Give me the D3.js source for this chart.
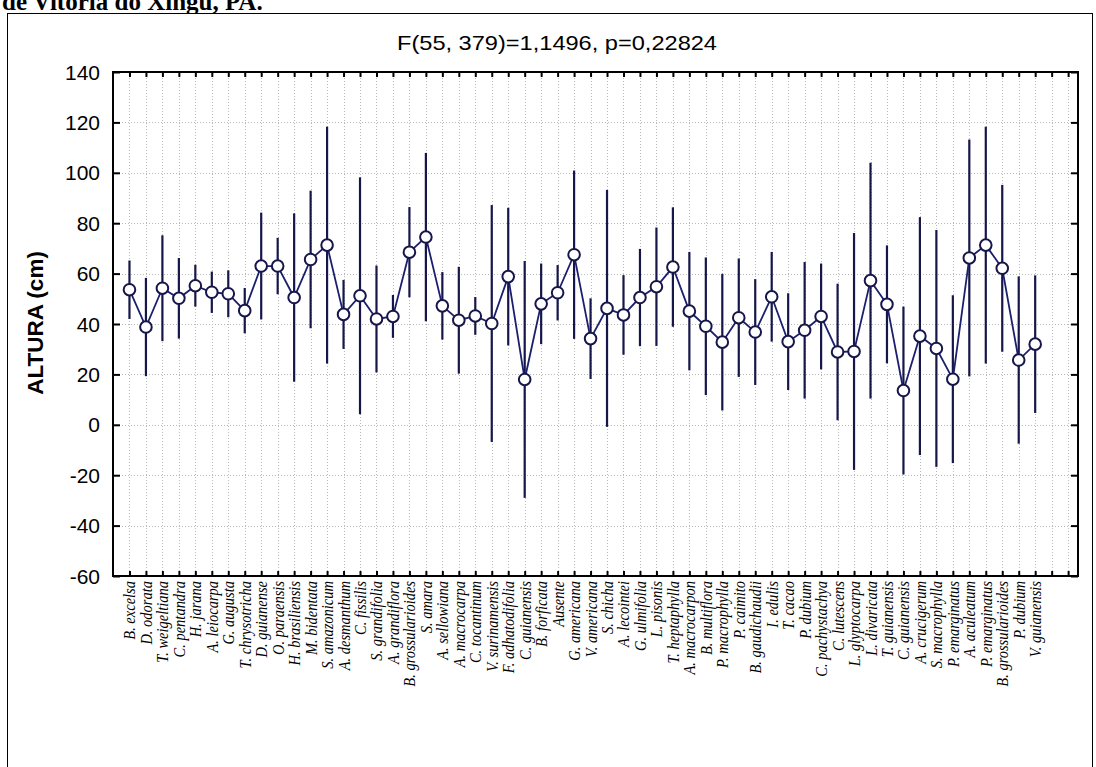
<!DOCTYPE html>
<html>
<head>
<meta charset="utf-8">
<script src="https://cdn.jsdelivr.net/npm/d3@7/dist/d3.min.js"></script>
<style>
  html, body { margin: 0; padding: 0; background: #fff; }
  svg { display: block; }
</style>
</head>
<body>
<svg id="chart" width="1096" height="767"></svg>
<script>
// Species (categories along the x axis)
const species = [
  "B. excelsa", "D. odorata", "T. weigeltiana", "C. pentandra", "H. jarana",
  "A. leiocarpa", "G. augusta", "T. chrysotricha", "D. guianense", "O. paraensis",
  "H. brasiliensis", "M. bidentata", "S. amazonicum", "A. desmanthum", "C. fissilis",
  "S. grandifolia", "A. grandiflora", "B. grossularioides", "S. amara", "A. sellowiana",
  "A. macrocarpa", "C. tocantinum", "V. surinamensis", "F. adhatodifolia", "C. guianensis",
  "B. forficata", "Ausente", "G. americana", "V. americana", "S. chicha",
  "A. lecointei", "G. ulmifolia", "L. pisonis", "T. heptaphylla", "A. macrocarpon",
  "B. multiflora", "P. macrophylla", "P. caimito", "B. gaudichaudii", "I. edulis",
  "T. cacao", "P. dubium", "C. pachystachya", "C. lutescens", "L. glyptocarpa",
  "L. divaricata", "T. guianensis", "C. guianensis", "A. crucigerum", "S. macrophylla",
  "P. emarginatus", "A. aculeatum", "P. emarginatus", "B. grossularioides", "P. dubium",
  "V. guianensis"
];

// Mean height (cm) per species
const meanHeight = [
  53.6, 38.8, 54.2, 50.2, 55.2, 52.6, 52.0, 45.3, 63.0, 63.0,
  50.5, 65.6, 71.3, 43.8, 51.2, 42.0, 43.0, 68.5, 74.5, 47.2,
  41.5, 43.2, 40.2, 58.8, 18.0, 48.0, 52.4, 67.5, 34.2, 46.2,
  43.6, 50.5, 54.8, 62.6, 45.1, 39.1, 32.8, 42.5, 36.8, 50.8,
  33.0, 37.5, 43.0, 28.9, 29.1, 57.2, 47.8, 13.6, 35.2, 30.3,
  18.1, 66.2, 71.3, 62.1, 25.7, 32.0
];

// Half-width of the 95% confidence interval (cm)
const ci95 = [
  11.6, 19.5, 21.0, 16.0, 8.3, 8.2, 9.3, 9.0, 21.2, 11.2,
  33.4, 27.3, 47.0, 13.7, 47.0, 21.2, 8.5, 17.9, 33.4, 13.4,
  21.2, 7.5, 47.0, 27.3, 47.0, 16.0, 11.0, 33.4, 16.0, 47.0,
  15.8, 19.3, 23.5, 23.7, 23.5, 27.3, 27.1, 23.5, 21.0, 17.8,
  19.2, 27.1, 21.0, 27.1, 47.0, 46.8, 23.4, 33.3, 47.2, 47.0,
  33.3, 47.0, 47.0, 33.1, 33.2, 27.3
];

// Y axis tick values
const yTicks = [-60, -40, -20, 0, 20, 40, 60, 80, 100, 120, 140];

const titleText = "F(55, 379)=1,1496, p=0,22824";
const yLabel = "ALTURA (cm)";
const captionTail = "de Vitória do Xingu, PA.";

const svg = d3.select("#chart");

// Plot frame
const plot = { left: 113, right: 1078, top: 72, bottom: 576 };
const slotCount = 58.6;      // category slots spanned by the frame
const extraTicks = 2;        // empty tick positions after the last category

const x = d3.scaleLinear().domain([0, slotCount]).range([plot.left, plot.right]);
const y = d3.scaleLinear().domain([-60, 140]).range([plot.bottom, plot.top]);

const tickPositions = d3.range(1, species.length + extraTicks + 1);

// Clipped caption line above the figure box
svg.append("text")
  .attr("x", 2).attr("y", 10)
  .attr("font-family", "Liberation Serif, Times New Roman, serif")
  .attr("font-weight", "bold")
  .attr("font-size", 25)
  .attr("fill", "#000")
  .text(captionTail);

// Outer figure box
svg.append("rect")
  .attr("x", 7.5).attr("y", 13.5)
  .attr("width", 1085).attr("height", 800)
  .attr("fill", "#fff").attr("stroke", "#000").attr("stroke-width", 1);

// Grid lines
const grid = svg.append("g").attr("class", "grid");
grid.selectAll("line.h").data(yTicks.filter(v => v > -60 && v < 140)).join("line")
  .attr("class", "h")
  .attr("x1", plot.left).attr("x2", plot.right)
  .attr("y1", d => Math.round(y(d)) + 0.5).attr("y2", d => Math.round(y(d)) + 0.5)
  .attr("stroke", "#b8b8b8").attr("stroke-width", 1).attr("stroke-dasharray", "1,2");
grid.selectAll("line.v").data(tickPositions).join("line")
  .attr("class", "v")
  .attr("x1", d => Math.round(x(d)) + 0.5).attr("x2", d => Math.round(x(d)) + 0.5)
  .attr("y1", plot.top).attr("y2", plot.bottom)
  .attr("stroke", "#b8b8b8").attr("stroke-width", 1).attr("stroke-dasharray", "1,2");

// Axes (ticks drawn inward, labels handled separately)
const axisStyle = g => {
  g.selectAll("path.domain").remove();
  g.selectAll("line").attr("stroke", "#000").attr("stroke-width", 2);
};

svg.append("g")
  .attr("transform", `translate(${plot.left},0)`)
  .call(d3.axisRight(y).tickValues(yTicks).tickSize(7).tickFormat(""))
  .call(axisStyle);
svg.append("g")
  .attr("transform", `translate(${plot.right},0)`)
  .call(d3.axisLeft(y).tickValues(yTicks).tickSize(7).tickFormat(""))
  .call(axisStyle);
svg.append("g")
  .attr("transform", `translate(0,${plot.top})`)
  .call(d3.axisBottom(x).tickValues(tickPositions).tickSize(5).tickFormat(""))
  .call(axisStyle);
svg.append("g")
  .attr("transform", `translate(0,${plot.bottom})`)
  .call(d3.axisTop(x).tickValues(tickPositions).tickSize(5).tickFormat(""))
  .call(axisStyle);

// Plot border
svg.append("rect")
  .attr("x", plot.left).attr("y", plot.top)
  .attr("width", plot.right - plot.left).attr("height", plot.bottom - plot.top)
  .attr("fill", "none").attr("stroke", "#000").attr("stroke-width", 2);

// Y tick labels
svg.append("g").selectAll("text").data(yTicks).join("text")
  .attr("x", 100).attr("y", d => y(d))
  .attr("dy", "0.36em")
  .attr("text-anchor", "end")
  .attr("font-family", "Liberation Sans, Arial, sans-serif")
  .attr("font-size", 21)
  .attr("fill", "#000")
  .text(d => d);

// Category labels (rotated, italic, glyphs widened across the text direction)
svg.append("g").selectAll("text").data(species).join("text")
  .attr("transform", (d, i) => `translate(${x(i + 1) + 6},${plot.bottom + 5}) rotate(-90) scale(1,1.2)`)
  .attr("text-anchor", "end")
  .attr("font-family", "Liberation Serif, Times New Roman, serif")
  .attr("font-style", "italic")
  .attr("font-size", 14.5)
  .attr("fill", "#000")
  .text(d => d);

// Title
svg.append("text")
  .attr("x", 557).attr("y", 50)
  .attr("text-anchor", "middle")
  .attr("font-family", "Liberation Sans, Arial, sans-serif")
  .attr("font-size", 21)
  .attr("textLength", 320)
  .attr("lengthAdjust", "spacingAndGlyphs")
  .attr("fill", "#000")
  .text(titleText);

// Y axis label
svg.append("text")
  .attr("transform", "translate(43,323) rotate(-90)")
  .attr("text-anchor", "middle")
  .attr("font-family", "Liberation Sans, Arial, sans-serif")
  .attr("font-weight", "bold")
  .attr("font-size", 22.5)
  .attr("fill", "#000")
  .text(yLabel);

// Error bars (95% CI)
const rows = species.map((s, i) => ({ i: i + 1, mean: meanHeight[i], ci: ci95[i] }));
svg.append("g").selectAll("line").data(rows).join("line")
  .attr("x1", d => x(d.i)).attr("x2", d => x(d.i))
  .attr("y1", d => y(d.mean + d.ci)).attr("y2", d => y(d.mean - d.ci))
  .attr("stroke", "#16164a").attr("stroke-width", 2.2);

// Line through the means
svg.append("path")
  .datum(rows)
  .attr("d", d3.line().x(d => x(d.i)).y(d => y(d.mean)))
  .attr("fill", "none").attr("stroke", "#1a1f6e").attr("stroke-width", 1.8);

// Mean markers
svg.append("g").selectAll("circle").data(rows).join("circle")
  .attr("cx", d => x(d.i)).attr("cy", d => y(d.mean))
  .attr("r", 5.8)
  .attr("fill", "#fff").attr("stroke", "#16164a").attr("stroke-width", 2);
</script>
</body>
</html>
